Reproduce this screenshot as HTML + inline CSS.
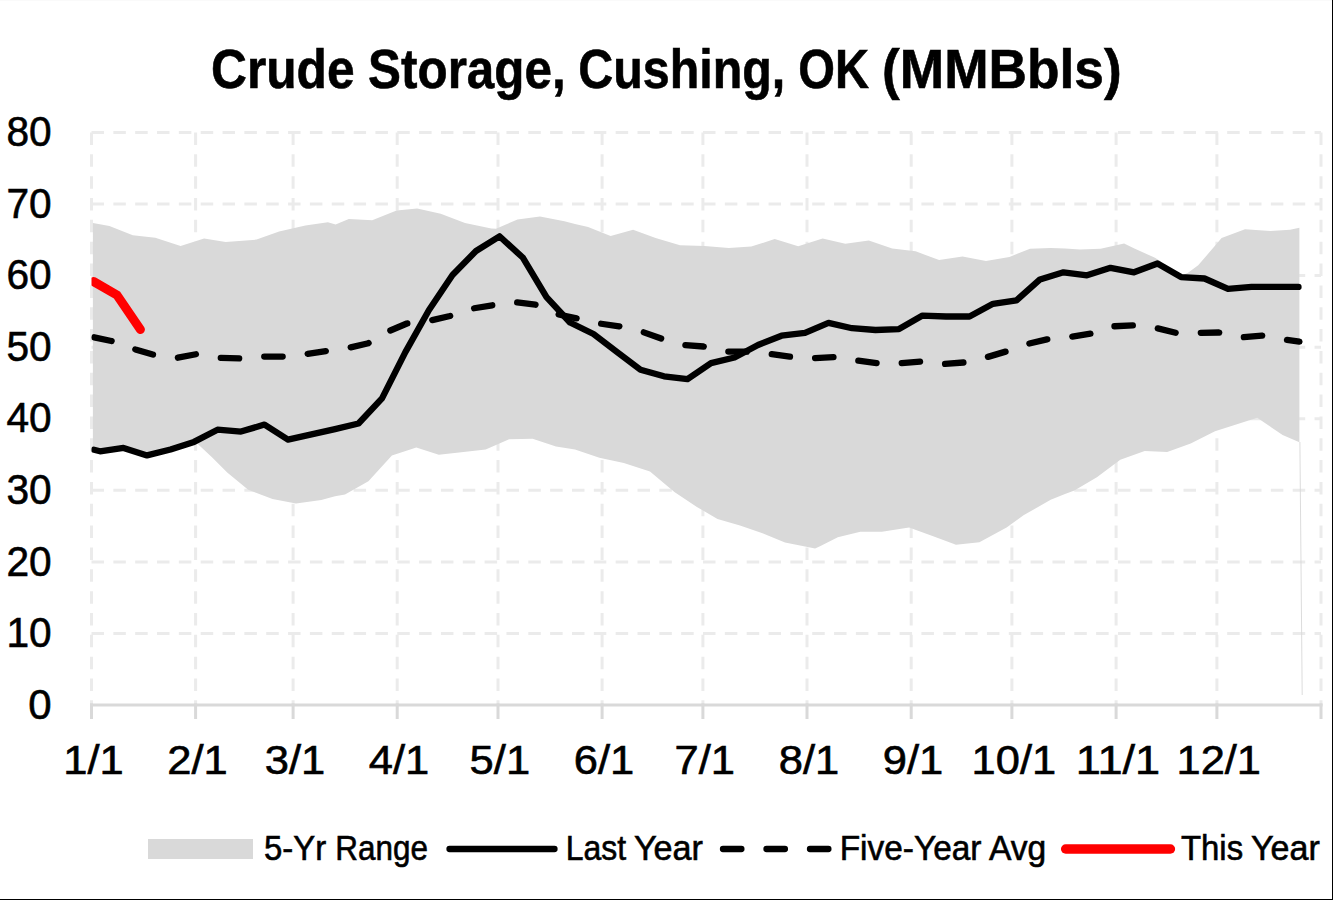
<!DOCTYPE html>
<html><head><meta charset="utf-8"><title>Crude Storage, Cushing, OK</title>
<style>html,body{margin:0;padding:0;background:#fff;overflow:hidden;width:1333px;height:900px;}svg{display:block;}</style>
</head><body>
<svg width="1333" height="900" viewBox="0 0 1333 900">
<rect x="0" y="0" width="1333" height="900" fill="#ffffff"/>
<rect x="0" y="0" width="1333" height="1" fill="#FAFAFA"/>
<defs><clipPath id="pc"><rect x="91.5" y="120" width="1240" height="585"/></clipPath></defs>
<line x1="91.5" y1="633.4" x2="1321" y2="633.4" stroke="#EBEBEB" stroke-width="3" stroke-dasharray="12.5 9.34"/>
<line x1="91.5" y1="561.9" x2="1321" y2="561.9" stroke="#EBEBEB" stroke-width="3" stroke-dasharray="12.5 9.34"/>
<line x1="91.5" y1="490.3" x2="1321" y2="490.3" stroke="#EBEBEB" stroke-width="3" stroke-dasharray="12.5 9.34"/>
<line x1="91.5" y1="418.8" x2="1321" y2="418.8" stroke="#EBEBEB" stroke-width="3" stroke-dasharray="12.5 9.34"/>
<line x1="91.5" y1="347.2" x2="1321" y2="347.2" stroke="#EBEBEB" stroke-width="3" stroke-dasharray="12.5 9.34"/>
<line x1="91.5" y1="275.6" x2="1321" y2="275.6" stroke="#EBEBEB" stroke-width="3" stroke-dasharray="12.5 9.34"/>
<line x1="91.5" y1="204.1" x2="1321" y2="204.1" stroke="#EBEBEB" stroke-width="3" stroke-dasharray="12.5 9.34"/>
<line x1="91.5" y1="132.5" x2="1321" y2="132.5" stroke="#EBEBEB" stroke-width="3" stroke-dasharray="12.5 9.34"/>
<line x1="91.5" y1="132.5" x2="91.5" y2="705.0" stroke="#EBEBEB" stroke-width="3" stroke-dasharray="12.5 9.34"/>
<line x1="195.6" y1="132.5" x2="195.6" y2="705.0" stroke="#EBEBEB" stroke-width="3" stroke-dasharray="12.5 9.34"/>
<line x1="293.1" y1="132.5" x2="293.1" y2="705.0" stroke="#EBEBEB" stroke-width="3" stroke-dasharray="12.5 9.34"/>
<line x1="397.2" y1="132.5" x2="397.2" y2="705.0" stroke="#EBEBEB" stroke-width="3" stroke-dasharray="12.5 9.34"/>
<line x1="498.0" y1="132.5" x2="498.0" y2="705.0" stroke="#EBEBEB" stroke-width="3" stroke-dasharray="12.5 9.34"/>
<line x1="602.1" y1="132.5" x2="602.1" y2="705.0" stroke="#EBEBEB" stroke-width="3" stroke-dasharray="12.5 9.34"/>
<line x1="702.9" y1="132.5" x2="702.9" y2="705.0" stroke="#EBEBEB" stroke-width="3" stroke-dasharray="12.5 9.34"/>
<line x1="807.0" y1="132.5" x2="807.0" y2="705.0" stroke="#EBEBEB" stroke-width="3" stroke-dasharray="12.5 9.34"/>
<line x1="911.2" y1="132.5" x2="911.2" y2="705.0" stroke="#EBEBEB" stroke-width="3" stroke-dasharray="12.5 9.34"/>
<line x1="1011.9" y1="132.5" x2="1011.9" y2="705.0" stroke="#EBEBEB" stroke-width="3" stroke-dasharray="12.5 9.34"/>
<line x1="1116.1" y1="132.5" x2="1116.1" y2="705.0" stroke="#EBEBEB" stroke-width="3" stroke-dasharray="12.5 9.34"/>
<line x1="1216.9" y1="132.5" x2="1216.9" y2="705.0" stroke="#EBEBEB" stroke-width="3" stroke-dasharray="12.5 9.34"/>
<line x1="1321.0" y1="132.5" x2="1321.0" y2="705.0" stroke="#EBEBEB" stroke-width="3" stroke-dasharray="12.5 9.34"/>
<polygon points="92.9,223.1 109.4,225.9 132.8,235.3 155.3,237.8 180.6,246.0 204.1,238.5 225.7,241.9 256.6,239.6 279.1,231.6 305.4,225.6 327.9,222.2 335.6,224.6 348.8,219.0 372.2,220.3 396.6,210.4 417.2,208.5 440.7,213.8 465.0,223.1 491.3,228.4 496.0,228.8 517.5,219.4 540.0,216.6 564.4,221.3 575.0,224.1 588.1,226.9 610.6,235.9 633.1,229.7 655.6,238.1 680.0,245.3 704.4,246.0 728.8,248.1 751.3,246.6 774.7,239.1 798.2,246.2 822.6,238.5 845.3,243.8 868.8,240.6 892.2,248.5 915.6,251.3 939.1,260.1 962.5,256.5 986.0,261.0 1009.4,256.9 1030.0,248.8 1050.7,247.9 1065.0,248.5 1080.0,249.4 1100.6,248.8 1124.1,243.4 1134.4,248.5 1155.0,257.8 1160.0,261.0 1181.0,276.0 1188.0,272.8 1198.2,265.3 1221.6,238.1 1245.0,229.3 1270.4,231.0 1290.1,229.7 1299.4,227.8 1299.4,442.2 1282.6,435.0 1257.2,417.8 1238.5,423.8 1215.0,431.3 1190.7,443.5 1167.2,451.9 1144.7,451.0 1120.3,459.8 1096.9,477.2 1074.4,490.4 1065.0,494.1 1050.7,499.8 1023.5,515.3 1006.6,527.5 979.4,542.2 956.0,544.8 932.5,536.0 909.1,527.5 881.9,531.8 860.3,531.8 837.8,537.3 820.0,546.3 815.1,548.5 785.0,542.5 762.5,533.2 740.0,525.6 717.5,519.1 696.9,506.9 674.4,491.9 650.0,471.5 623.8,463.0 599.4,457.7 575.0,449.5 556.0,446.6 532.6,438.7 509.1,439.3 485.7,449.4 461.3,452.2 438.8,454.7 416.3,447.5 391.9,455.4 368.4,481.3 345.0,494.4 335.0,496.3 321.3,500.0 296.0,503.4 272.5,499.1 248.2,489.7 227.5,472.8 212.5,457.8 197.5,443.8 194.0,441.9 170.5,449.5 147.0,455.4 123.5,447.9 100.0,451.3 92.9,449.2" fill="#D9D9D9"/>
<line x1="1299.9" y1="442" x2="1302.2" y2="695" stroke="#D9D9D9" stroke-width="1" opacity="0.9"/>
<line x1="90.0" y1="705.0" x2="1322.5" y2="705.0" stroke="#D9D9D9" stroke-width="3"/>
<line x1="91.5" y1="703.5" x2="91.5" y2="719" stroke="#D9D9D9" stroke-width="3"/>
<line x1="195.6" y1="703.5" x2="195.6" y2="719" stroke="#D9D9D9" stroke-width="3"/>
<line x1="293.1" y1="703.5" x2="293.1" y2="719" stroke="#D9D9D9" stroke-width="3"/>
<line x1="397.2" y1="703.5" x2="397.2" y2="719" stroke="#D9D9D9" stroke-width="3"/>
<line x1="498.0" y1="703.5" x2="498.0" y2="719" stroke="#D9D9D9" stroke-width="3"/>
<line x1="602.1" y1="703.5" x2="602.1" y2="719" stroke="#D9D9D9" stroke-width="3"/>
<line x1="702.9" y1="703.5" x2="702.9" y2="719" stroke="#D9D9D9" stroke-width="3"/>
<line x1="807.0" y1="703.5" x2="807.0" y2="719" stroke="#D9D9D9" stroke-width="3"/>
<line x1="911.2" y1="703.5" x2="911.2" y2="719" stroke="#D9D9D9" stroke-width="3"/>
<line x1="1011.9" y1="703.5" x2="1011.9" y2="719" stroke="#D9D9D9" stroke-width="3"/>
<line x1="1116.1" y1="703.5" x2="1116.1" y2="719" stroke="#D9D9D9" stroke-width="3"/>
<line x1="1216.9" y1="703.5" x2="1216.9" y2="719" stroke="#D9D9D9" stroke-width="3"/>
<line x1="1321.0" y1="703.5" x2="1321.0" y2="719" stroke="#D9D9D9" stroke-width="3"/>
<g clip-path="url(#pc)">
<polyline points="94.2,337.3 111.4,341.0 135.4,349.4 152.8,354.5 176.9,357.9 196.6,354.1 219.1,357.9 239.7,358.4 263.2,356.6 282.9,356.6 306.3,354.1 326.9,350.9 348.8,347.8 368.4,343.2 389.1,331.0 406.9,323.5 431.3,320.3 450.0,316.0 472.5,308.5 492.2,305.3 515.7,302.3 535.4,304.7 556.9,314.1 576.6,318.4 599.4,323.5 619.1,326.3 642.5,331.9 661.3,338.5 684.7,345.0 703.5,346.5 726.9,351.6 746.6,351.6 770.0,354.0 789.7,356.7 813.2,358.2 834.0,357.0 857.0,360.5 877.2,363.2 900.2,363.2 920.3,361.6 943.8,364.0 963.5,362.5 986.9,357.2 1005.7,351.6 1028.2,343.8 1046.9,339.4 1071.0,336.8 1090.8,333.6 1113.8,326.3 1133.5,325.3 1156.9,328.2 1175.7,332.8 1200.0,332.8 1218.8,332.5 1242.2,337.3 1261.9,335.6 1285.0,339.6 1299.4,341.7" fill="none" stroke="#000" stroke-width="6.3" stroke-linecap="round" stroke-linejoin="round" stroke-dasharray="18.4 25.15" stroke-dashoffset="0.6"/>
<polyline points="94.0,449.8 100.0,451.3 123.5,447.9 147.0,455.4 170.5,449.5 194.0,441.9 217.5,429.7 241.0,431.6 264.5,424.6 288.0,439.6 311.5,434.4 335.0,429.1 358.5,423.5 382.0,398.4 405.5,351.9 429.0,310.0 452.5,275.0 476.0,251.0 499.5,236.3 523.0,257.8 546.5,297.2 570.0,322.5 593.5,334.0 617.0,352.0 640.5,369.7 664.0,376.3 687.5,379.1 711.0,363.1 734.5,357.5 758.0,345.0 781.5,335.7 805.0,332.8 828.5,322.9 852.0,328.2 875.5,330.0 899.0,329.1 922.5,315.6 946.0,316.5 969.5,316.5 993.0,303.8 1016.5,300.4 1040.0,279.4 1063.5,272.3 1087.0,275.3 1110.5,267.8 1134.0,272.3 1157.5,263.5 1181.0,277.1 1204.5,278.5 1228.0,288.8 1251.5,286.9 1275.0,286.9 1298.5,286.9" fill="none" stroke="#000" stroke-width="6.3" stroke-linecap="round" stroke-linejoin="round"/>
<polyline points="93.5,281.5 117.1,295.2 140.4,329.5" fill="none" stroke="#FF0000" stroke-width="9" stroke-linecap="round" stroke-linejoin="round"/>
</g>
<text x="211.0" y="87.8" font-family="Liberation Sans, sans-serif" stroke="#000" stroke-width="0.6" font-weight="bold" font-size="56" textLength="143.6" lengthAdjust="spacingAndGlyphs">Crude</text>
<text x="368.1" y="87.8" font-family="Liberation Sans, sans-serif" stroke="#000" stroke-width="0.6" font-weight="bold" font-size="56" textLength="197.6" lengthAdjust="spacingAndGlyphs">Storage,</text>
<text x="578.3" y="87.8" font-family="Liberation Sans, sans-serif" stroke="#000" stroke-width="0.6" font-weight="bold" font-size="56" textLength="206.9" lengthAdjust="spacingAndGlyphs">Cushing,</text>
<text x="798.2" y="87.8" font-family="Liberation Sans, sans-serif" stroke="#000" stroke-width="0.6" font-weight="bold" font-size="56" textLength="70.8" lengthAdjust="spacingAndGlyphs">OK</text>
<text x="882.1" y="87.8" font-family="Liberation Sans, sans-serif" stroke="#000" stroke-width="0.6" font-weight="bold" font-size="56" textLength="239.6" lengthAdjust="spacingAndGlyphs">(MMBbls)</text>
<text x="51.6" y="718.6" font-family="Liberation Sans, sans-serif" stroke="#000" stroke-width="0.6" font-size="42" text-anchor="end">0</text>
<text x="6.4" y="647.0" font-family="Liberation Sans, sans-serif" stroke="#000" stroke-width="0.6" font-size="42" textLength="45.2" lengthAdjust="spacingAndGlyphs">10</text>
<text x="6.4" y="575.5" font-family="Liberation Sans, sans-serif" stroke="#000" stroke-width="0.6" font-size="42" textLength="45.2" lengthAdjust="spacingAndGlyphs">20</text>
<text x="6.4" y="503.9" font-family="Liberation Sans, sans-serif" stroke="#000" stroke-width="0.6" font-size="42" textLength="45.2" lengthAdjust="spacingAndGlyphs">30</text>
<text x="6.4" y="432.4" font-family="Liberation Sans, sans-serif" stroke="#000" stroke-width="0.6" font-size="42" textLength="45.2" lengthAdjust="spacingAndGlyphs">40</text>
<text x="6.4" y="360.8" font-family="Liberation Sans, sans-serif" stroke="#000" stroke-width="0.6" font-size="42" textLength="45.2" lengthAdjust="spacingAndGlyphs">50</text>
<text x="6.4" y="289.2" font-family="Liberation Sans, sans-serif" stroke="#000" stroke-width="0.6" font-size="42" textLength="45.2" lengthAdjust="spacingAndGlyphs">60</text>
<text x="6.4" y="217.7" font-family="Liberation Sans, sans-serif" stroke="#000" stroke-width="0.6" font-size="42" textLength="45.2" lengthAdjust="spacingAndGlyphs">70</text>
<text x="6.4" y="146.1" font-family="Liberation Sans, sans-serif" stroke="#000" stroke-width="0.6" font-size="42" textLength="45.2" lengthAdjust="spacingAndGlyphs">80</text>
<text x="63.2" y="773.8" font-family="Liberation Sans, sans-serif" stroke="#000" stroke-width="0.6" font-size="40" textLength="60.5" lengthAdjust="spacingAndGlyphs">1/1</text>
<text x="167.3" y="773.8" font-family="Liberation Sans, sans-serif" stroke="#000" stroke-width="0.6" font-size="40" textLength="60.5" lengthAdjust="spacingAndGlyphs">2/1</text>
<text x="264.7" y="773.8" font-family="Liberation Sans, sans-serif" stroke="#000" stroke-width="0.6" font-size="40" textLength="60.5" lengthAdjust="spacingAndGlyphs">3/1</text>
<text x="368.8" y="773.8" font-family="Liberation Sans, sans-serif" stroke="#000" stroke-width="0.6" font-size="40" textLength="60.5" lengthAdjust="spacingAndGlyphs">4/1</text>
<text x="469.6" y="773.8" font-family="Liberation Sans, sans-serif" stroke="#000" stroke-width="0.6" font-size="40" textLength="60.5" lengthAdjust="spacingAndGlyphs">5/1</text>
<text x="573.8" y="773.8" font-family="Liberation Sans, sans-serif" stroke="#000" stroke-width="0.6" font-size="40" textLength="60.5" lengthAdjust="spacingAndGlyphs">6/1</text>
<text x="674.5" y="773.8" font-family="Liberation Sans, sans-serif" stroke="#000" stroke-width="0.6" font-size="40" textLength="60.5" lengthAdjust="spacingAndGlyphs">7/1</text>
<text x="778.7" y="773.8" font-family="Liberation Sans, sans-serif" stroke="#000" stroke-width="0.6" font-size="40" textLength="60.5" lengthAdjust="spacingAndGlyphs">8/1</text>
<text x="882.8" y="773.8" font-family="Liberation Sans, sans-serif" stroke="#000" stroke-width="0.6" font-size="40" textLength="60.5" lengthAdjust="spacingAndGlyphs">9/1</text>
<text x="971.6" y="773.8" font-family="Liberation Sans, sans-serif" stroke="#000" stroke-width="0.6" font-size="40" textLength="84.5" lengthAdjust="spacingAndGlyphs">10/1</text>
<text x="1075.7" y="773.8" font-family="Liberation Sans, sans-serif" stroke="#000" stroke-width="0.6" font-size="40" textLength="84.5" lengthAdjust="spacingAndGlyphs">11/1</text>
<text x="1176.5" y="773.8" font-family="Liberation Sans, sans-serif" stroke="#000" stroke-width="0.6" font-size="40" textLength="84.5" lengthAdjust="spacingAndGlyphs">12/1</text>
<rect x="148" y="839" width="105" height="20" fill="#D9D9D9"/>
<line x1="449.5" y1="849" x2="554.5" y2="849" stroke="#000" stroke-width="6.3" stroke-linecap="round"/>
<line x1="723" y1="849" x2="829" y2="849" stroke="#000" stroke-width="6.3" stroke-linecap="round" stroke-dasharray="18.4 25.1"/>
<line x1="1065.7" y1="849" x2="1170.4" y2="849" stroke="#FF0000" stroke-width="9.5" stroke-linecap="round"/>
<text x="264.0" y="860" font-family="Liberation Sans, sans-serif" stroke="#000" stroke-width="0.6" font-size="35" textLength="62.2" lengthAdjust="spacingAndGlyphs">5-Yr</text>
<text x="335.3" y="860" font-family="Liberation Sans, sans-serif" stroke="#000" stroke-width="0.6" font-size="35" textLength="92.7" lengthAdjust="spacingAndGlyphs">Range</text>
<text x="565.7" y="860" font-family="Liberation Sans, sans-serif" stroke="#000" stroke-width="0.6" font-size="35" textLength="60.5" lengthAdjust="spacingAndGlyphs">Last</text>
<text x="633.9" y="860" font-family="Liberation Sans, sans-serif" stroke="#000" stroke-width="0.6" font-size="35" textLength="69.1" lengthAdjust="spacingAndGlyphs">Year</text>
<text x="839.7" y="860" font-family="Liberation Sans, sans-serif" stroke="#000" stroke-width="0.6" font-size="35" textLength="141.8" lengthAdjust="spacingAndGlyphs">Five-Year</text>
<text x="989.0" y="860" font-family="Liberation Sans, sans-serif" stroke="#000" stroke-width="0.6" font-size="35" textLength="57.3" lengthAdjust="spacingAndGlyphs">Avg</text>
<text x="1180.9" y="860" font-family="Liberation Sans, sans-serif" stroke="#000" stroke-width="0.6" font-size="35" textLength="62.2" lengthAdjust="spacingAndGlyphs">This</text>
<text x="1251.0" y="860" font-family="Liberation Sans, sans-serif" stroke="#000" stroke-width="0.6" font-size="35" textLength="68.8" lengthAdjust="spacingAndGlyphs">Year</text>
<rect x="1332" y="0" width="1" height="900" fill="#000"/>
<rect x="0" y="899" width="1333" height="1" fill="#000"/>
</svg>
</body></html>
